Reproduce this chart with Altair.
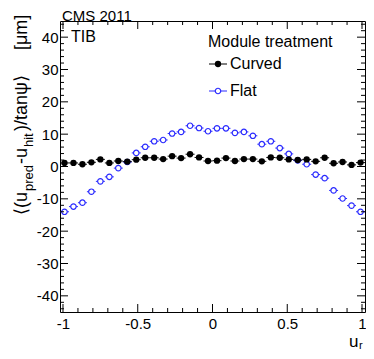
import altair as alt
import pandas as pd

# ---------------- data ----------------
U_R = [-0.99, -0.93, -0.87, -0.81, -0.75, -0.69, -0.63, -0.57, -0.51, -0.45,
       -0.39, -0.33, -0.27, -0.21, -0.15, -0.09, -0.03, 0.03, 0.09, 0.15,
       0.21, 0.27, 0.33, 0.39, 0.45, 0.51, 0.57, 0.63, 0.69, 0.75,
       0.81, 0.87, 0.93, 0.99]
HALF_BIN = 0.03
CURVED = [1.1, 1.1, 0.7, 1.3, 2.2, 1.1, 1.7, 1.5, 2.1, 2.7,
          2.7, 2.3, 3.2, 2.6, 3.8, 2.8, 1.7, 1.8, 2.6, 1.7,
          2.3, 2.3, 1.6, 2.8, 2.7, 2.2, 2.0, 2.2, 1.6, 2.7,
          1.0, 1.4, 0.5, 1.2]
FLAT = [-14.0, -12.4, -11.2, -7.8, -4.6, -3.2, -0.5, 1.4, 4.2, 6.1,
        7.8, 8.2, 10.2, 10.7, 12.6, 11.9, 10.9, 11.8, 11.8, 10.4,
        10.7, 9.5, 6.9, 7.8, 5.7, 3.9, 1.9, 0.7, -2.5, -3.6,
        -7.4, -9.9, -12.1, -14.0]

X_DOMAIN = [-1.02, 1.02]
Y_DOMAIN = [-45, 45]
X_MAJOR = [-1, -0.5, 0, 0.5, 1]
X_MINOR = [-0.9, -0.8, -0.7, -0.6, -0.4, -0.3, -0.2, -0.1,
           0.1, 0.2, 0.3, 0.4, 0.6, 0.7, 0.8, 0.9]
Y_MAJOR = [-40, -30, -20, -10, 0, 10, 20, 30, 40]
Y_MINOR = [-44, -42, -38, -36, -34, -32, -28, -26, -24, -22, -18, -16, -14, -12,
           -8, -6, -4, -2, 2, 4, 6, 8, 12, 14, 16, 18, 22, 24, 26, 28,
           32, 34, 36, 38, 42, 44]

# ---------------- layout ----------------
W, H = 305, 291
TOP = 13
FONT = "Liberation Sans"
BLUE = "#2a2aff"
XS = alt.Scale(domain=X_DOMAIN, nice=False, zero=False)
YS = alt.Scale(domain=Y_DOMAIN, nice=False, zero=False)

df_c = pd.DataFrame({"x": U_R, "y": CURVED})
df_c["lo"] = df_c["x"] - HALF_BIN
df_c["hi"] = df_c["x"] + HALF_BIN
df_f = pd.DataFrame({"x": U_R, "y": FLAT})
df_f["lo"] = df_f["x"] - HALF_BIN
df_f["hi"] = df_f["x"] + HALF_BIN


def X(field):
    return alt.X(field, scale=XS, title=None,
                 axis=alt.Axis(values=X_MAJOR, tickCount=20, labelExpr="'' + datum.value",
                               labelPadding=4, title=None))


def Y(field):
    return alt.Y(field, scale=YS, title=None,
                 axis=alt.Axis(values=Y_MAJOR, tickCount=20, labelExpr="'' + datum.value",
                               labelPadding=2, title=None))


# error bars (horizontal, bin width) and markers
flat_err = alt.Chart(df_f).mark_rule(color=BLUE, strokeWidth=1).encode(
    x=X("lo:Q"), x2="hi:Q", y=Y("y:Q"))
flat_pts = alt.Chart(df_f).mark_point(shape="circle", size=30, color=BLUE,
                                      fill="white", fillOpacity=1,
                                      strokeWidth=1.2, opacity=1).encode(
    x=X("x:Q"), y=Y("y:Q"))
curv_err = alt.Chart(df_c).mark_rule(color="black", strokeWidth=1).encode(
    x=X("lo:Q"), x2="hi:Q", y=Y("y:Q"))
curv_pts = alt.Chart(df_c).mark_point(shape="circle", size=40, color="black",
                                      filled=True, opacity=1).encode(
    x=X("x:Q"), y=Y("y:Q"))


# ---------------- inward ticks on all four sides ----------------
def yticks(vals, length):
    d = pd.DataFrame({"v": vals})
    left = alt.Chart(d).mark_rule(color="black", strokeWidth=1).encode(
        y=Y("v:Q"), x=alt.value(0), x2=alt.value(length))
    right = alt.Chart(d).mark_rule(color="black", strokeWidth=1).encode(
        y=Y("v:Q"), x=alt.value(W - length), x2=alt.value(W))
    return [left, right]


def xticks(vals, length):
    d = pd.DataFrame({"v": vals})
    bottom = alt.Chart(d).mark_rule(color="black", strokeWidth=1).encode(
        x=X("v:Q"), y=alt.value(H - length), y2=alt.value(H))
    top = alt.Chart(d).mark_rule(color="black", strokeWidth=1).encode(
        x=X("v:Q"), y=alt.value(0), y2=alt.value(length))
    return [bottom, top]


ticks = yticks(Y_MAJOR, 8) + yticks(Y_MINOR, 4) + xticks(X_MAJOR, 8) + xticks(X_MINOR, 4)


# ---------------- text helpers ----------------
def txt(s, x, y, size=16, angle=0, align="left", baseline="alphabetic", color="black"):
    return alt.Chart(pd.DataFrame({"s": [s]})).mark_text(
        text=s, font=FONT, fontSize=size, angle=angle, align=align,
        baseline=baseline, color=color).encode(x=alt.value(x), y=alt.value(y))


def sy(screen_y):
    """screen y -> view y"""
    return screen_y - 8 - TOP


texts = [
    txt("CMS 2011", 2, sy(20.5), size=15),
    txt("TIB", 11, sy(42)),
    txt("Module treatment", 148, sy(47)),
    txt("Curved", 170, sy(64), baseline="middle"),
    txt("Flat", 170, sy(91), baseline="middle"),
    # y title pieces (rotated, read bottom -> top)
    txt("⟨(u", -33, sy(215), size=18, angle=270),
    txt("pred", -27, sy(191), size=13, angle=270),
    txt("-u", -33, sy(164), size=18, angle=270),
    txt("hit", -27, sy(147), size=13, angle=270),
    txt(")/tanψ⟩", -33, sy(131), size=18, angle=270),
    txt("[μm]", -33, sy(50), size=18, angle=270),
    # x title
    txt("u", 289, sy(347), size=17),
    txt("r", 299, sy(349), size=11),
]

# legend symbols
leg = [
    alt.Chart(pd.DataFrame({"s": ["Curved"]})).mark_rule(color="black").encode(
        x=alt.value(149), x2=alt.value(167), y=alt.value(sy(64))),
    alt.Chart(pd.DataFrame({"s": ["Curved"]})).mark_point(
        shape="circle", size=40, color="black", filled=True, opacity=1).encode(
        x=alt.value(158), y=alt.value(sy(64))),
    alt.Chart(pd.DataFrame({"s": ["Flat"]})).mark_rule(color=BLUE).encode(
        x=alt.value(149), x2=alt.value(167), y=alt.value(sy(91))),
    alt.Chart(pd.DataFrame({"s": ["Flat"]})).mark_point(
        shape="circle", size=30, color=BLUE, fill="white", fillOpacity=1,
        strokeWidth=1.2, opacity=1).encode(x=alt.value(158), y=alt.value(sy(91))),
]

chart = alt.layer(flat_err, flat_pts, curv_err, curv_pts, *ticks, *texts, *leg).properties(
    width=W, height=H,
    autosize=alt.AutoSizeParams(type="none"),
    padding={"left": 52, "top": TOP, "right": 1, "bottom": 343 - TOP - H},
    background="white",
).configure_view(
    stroke="black", strokeWidth=1
).configure_axis(
    ticks=False, domain=False, grid=False, labelFontSize=15, labelFont=FONT,
    labelColor="black", labelOverlap=False, labelFlush=False, labelBound=False
)

chart.save("out.html", embed_options={"renderer": "svg", "actions": False})
